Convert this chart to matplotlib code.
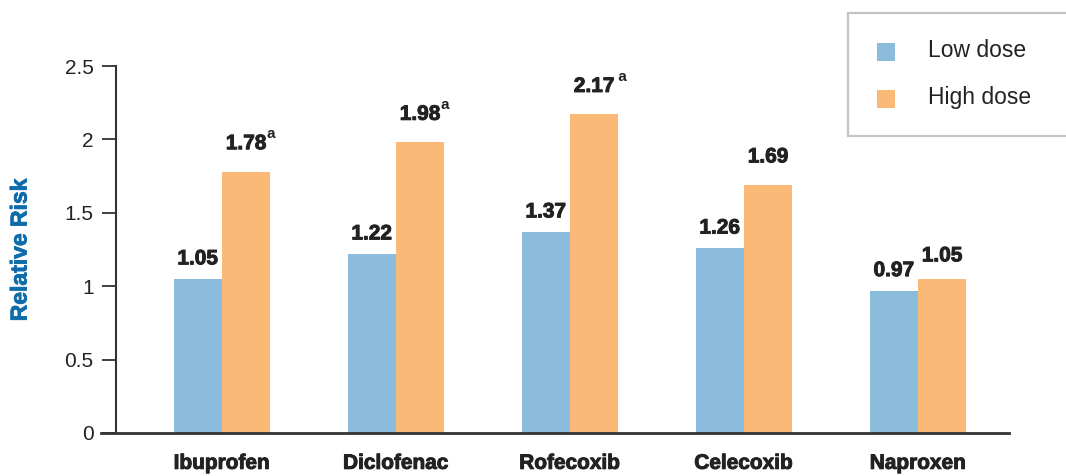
import matplotlib
matplotlib.use("Agg")
import matplotlib.pyplot as plt
import matplotlib.patheffects as pe
from matplotlib.patches import Rectangle
import numpy as np

# ---- data ----
drugs = ["Ibuprofen", "Diclofenac", "Rofecoxib", "Celecoxib", "Naproxen"]
series_names = ["Low dose", "High dose"]
low_dose = [1.05, 1.22, 1.37, 1.26, 0.97]
high_dose = [1.78, 1.98, 2.17, 1.69, 1.05]
high_sup = ["a", "a", " a", "", ""]
yticks = [0, 0.5, 1, 1.5, 2, 2.5]
ytick_labels = ["0", "0.5", "1", "1.5", "2", "2.5"]

# ---- style ----
W, H = 1066, 476
DPI = 100
blue = "#8BBBDD"
orange = "#FBB978"
dark = "#222222"
axis_col = "#333333"
ylab_col = "#0F6CAB"
BOLD = "Liberation Sans"
heavy = [pe.withStroke(linewidth=0.7, foreground=dark)]

fig = plt.figure(figsize=(W / DPI, H / DPI), dpi=DPI)
ax = fig.add_axes([101 / W, 43 / H, 908 / W, 367 / H])

x = np.arange(len(drugs))
bw = 0.278
ax.bar(x - bw / 2, low_dose, width=bw, color=blue, label=series_names[0], zorder=2)
ax.bar(x + bw / 2, high_dose, width=bw, color=orange, label=series_names[1], zorder=2)

ax.set_xlim(-0.695, 4.523)
ax.set_ylim(0, 2.5)

for s in ["top", "right"]:
    ax.spines[s].set_visible(False)
ax.spines["left"].set_position(("data", -0.609))
ax.spines["left"].set_color(axis_col)
ax.spines["left"].set_linewidth(1.5)
ax.spines["bottom"].set_color(axis_col)
ax.spines["bottom"].set_linewidth(2)

ax.set_yticks(yticks)
ax.set_yticklabels(ytick_labels, fontfamily="Liberation Sans", fontsize=15, color=dark)
ax.tick_params(axis="y", length=10, width=1.3, color=axis_col, pad=6)
ax.set_xticks(x)
ax.set_xticklabels(drugs, fontfamily=BOLD, fontweight="bold", fontsize=15, color=dark)
for lab in ax.get_xticklabels():
    lab.set_path_effects(heavy)
ax.tick_params(axis="x", length=0, pad=15)

fig.text(20 / W, 1 - 250 / H, "Relative Risk", rotation=90, ha="center", va="center",
         fontfamily=BOLD, fontweight="bold", fontsize=16.5, color=ylab_col,
         path_effects=[pe.withStroke(linewidth=0.6, foreground=ylab_col)])

# value labels
VFS = 15
for i, v in enumerate(low_dose):
    ax.annotate(f"{v:.2f}", xy=(x[i] - bw / 2, v), xytext=(0, 20), textcoords="offset pixels",
                ha="center", va="center", fontfamily=BOLD, fontweight="bold",
                fontsize=VFS, color=dark, path_effects=heavy)
for i, v in enumerate(high_dose):
    off = 28 if high_sup[i] else (23 if v < 1.5 else 28)
    t = ax.annotate(f"{v:.2f}", xy=(x[i] + bw / 2, v), xytext=(0, off), textcoords="offset pixels",
                    ha="center", va="center", fontfamily=BOLD, fontweight="bold",
                    fontsize=VFS, color=dark, path_effects=heavy)
    if high_sup[i]:
        ax.annotate(high_sup[i], xy=(1, 1), xycoords=t, xytext=(0, -4),
                    textcoords="offset pixels", ha="left", va="baseline",
                    fontfamily=BOLD, fontweight="bold", fontsize=11, color=dark)

# legend (manual)
fig.add_artist(Rectangle((848 / W, 1 - 136 / H), 240 / W, 123 / H, transform=fig.transFigure,
                         facecolor="white", edgecolor="#c4c4c4", linewidth=1.6))
for k, (name, col) in enumerate(zip(series_names, [blue, orange])):
    cy = 52 + 47 * k
    fig.add_artist(Rectangle((877 / W, 1 - (cy + 9) / H), 18 / W, 18 / H,
                             transform=fig.transFigure, facecolor=col, edgecolor="none"))
    fig.text(928 / W, 1 - (cy + 5) / H, name, ha="left", va="baseline",
             fontfamily="Liberation Sans", fontsize=16.5, color=dark)

fig.savefig("out.png", dpi=DPI)
